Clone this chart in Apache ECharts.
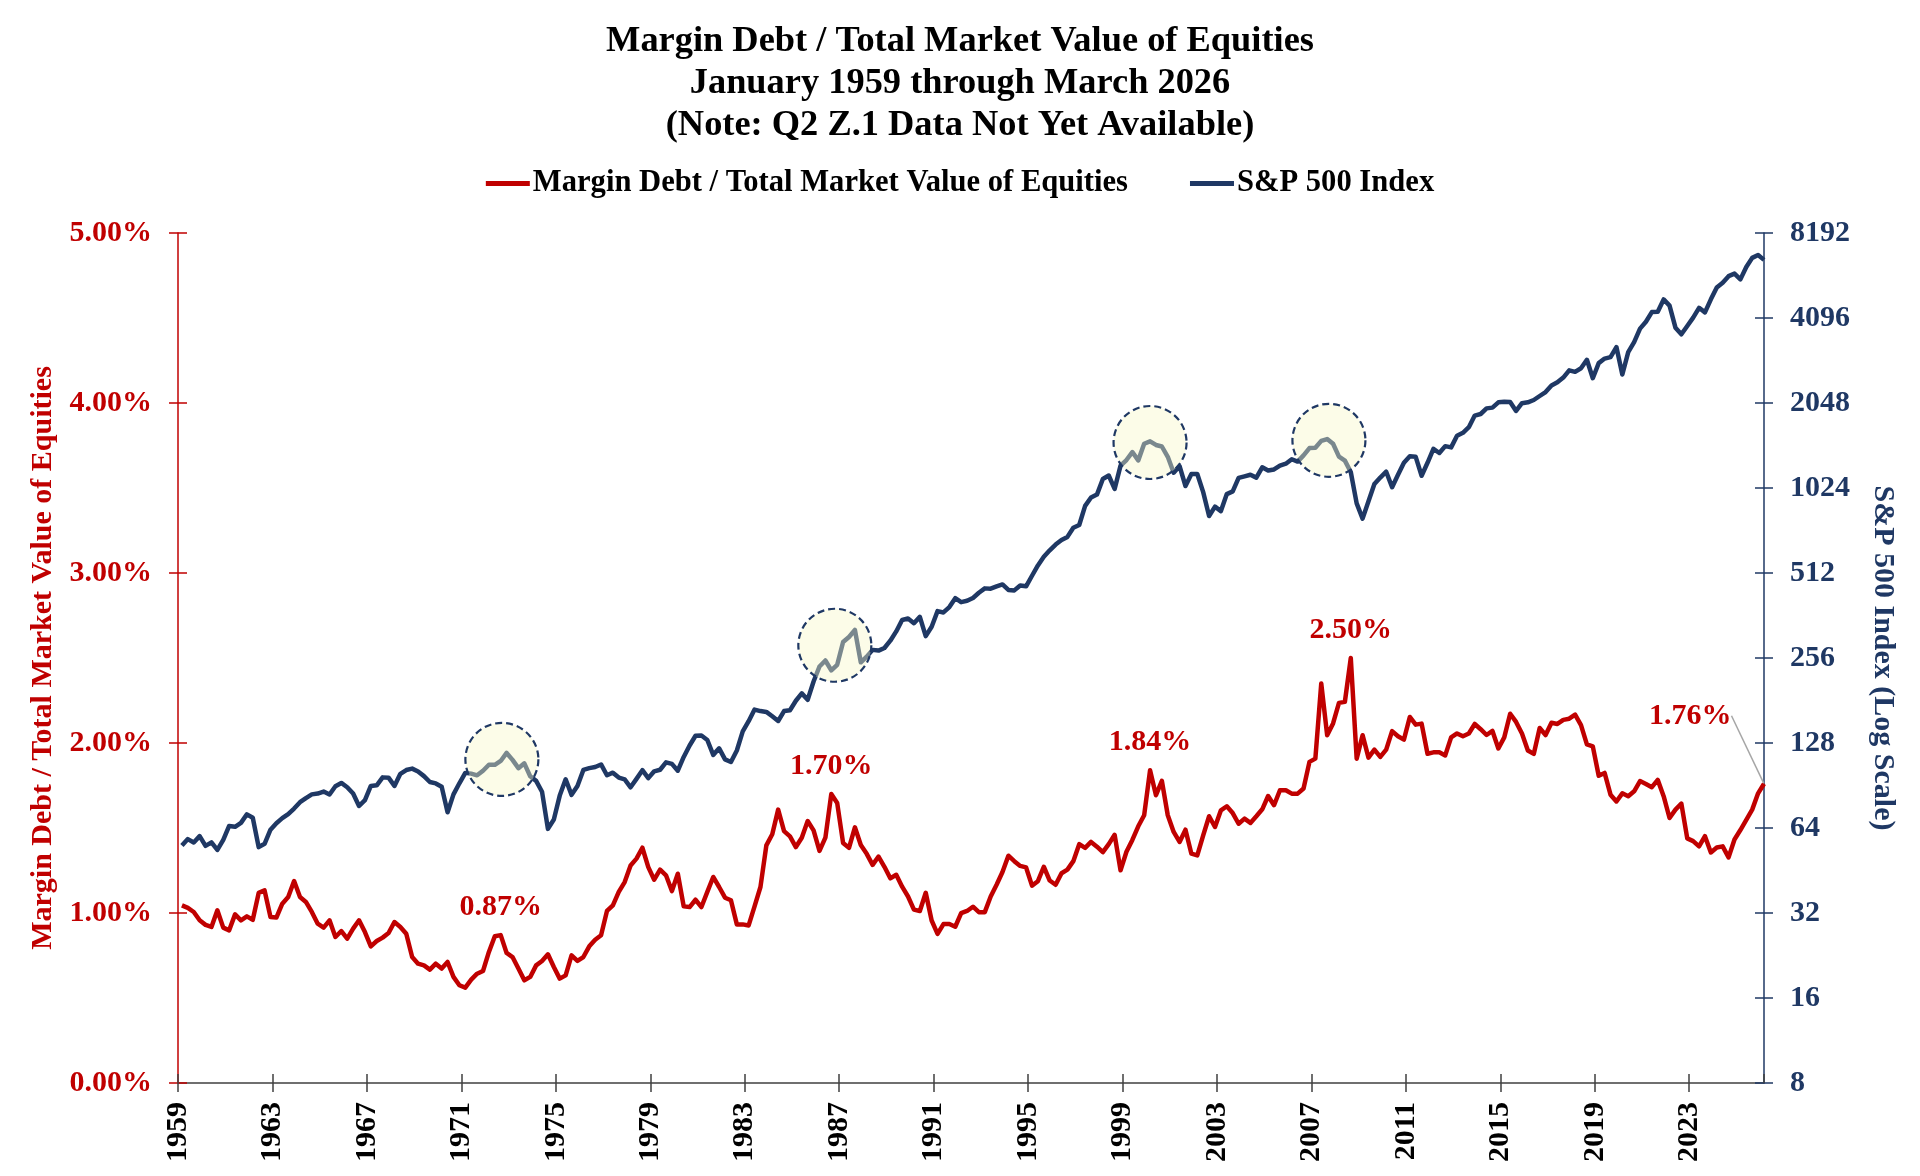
<!DOCTYPE html>
<html lang="en">
<head>
<meta charset="UTF-8">
<title>Margin Debt / Total Market Value of Equities</title>
<script src="https://cdn.jsdelivr.net/npm/echarts@6/dist/echarts.min.js"></script>
<style>
  html, body { margin: 0; padding: 0; background: #fff; }
  #main { width: 1920px; height: 1176px; }
</style>
</head>
<body>
<div id="main"></div>
<script>
// quarterly readings, Q1 1959 .. Q1 2026 (269 quarters)
const firstYear = 1959;

// margin debt / total market value of equities, in %
const marginPct = [
  1.045, 1.03, 1.006, 0.957, 0.93, 0.918, 1.016, 0.914, 0.898, 0.992,
  0.957, 0.98, 0.96, 1.118, 1.133, 0.976, 0.973, 1.055, 1.094, 1.188,
  1.094, 1.065, 1.006, 0.937, 0.914, 0.957, 0.859, 0.894, 0.849, 0.908,
  0.957, 0.888, 0.804, 0.835, 0.855, 0.882, 0.947, 0.918, 0.878, 0.741,
  0.702, 0.692, 0.667, 0.702, 0.673, 0.712, 0.624, 0.575, 0.561, 0.608,
  0.643, 0.659, 0.771, 0.863, 0.87, 0.765, 0.741, 0.673, 0.604, 0.624,
  0.692, 0.718, 0.757, 0.682, 0.614, 0.633, 0.751, 0.718, 0.741, 0.804,
  0.843, 0.869, 1.012, 1.045, 1.124, 1.182, 1.28, 1.32, 1.384, 1.27,
  1.196, 1.255, 1.222, 1.129, 1.231, 1.039, 1.035, 1.078, 1.035, 1.124,
  1.212, 1.153, 1.09, 1.075, 0.933, 0.933, 0.927, 1.039, 1.153, 1.398,
  1.463, 1.608, 1.482, 1.451, 1.388, 1.443, 1.541, 1.486, 1.365, 1.443,
  1.70, 1.647, 1.412, 1.383, 1.504, 1.40, 1.348, 1.283, 1.332, 1.272,
  1.204, 1.225, 1.155, 1.097, 1.02, 1.012, 1.119, 0.956, 0.877, 0.935,
  0.935, 0.919, 0.999, 1.012, 1.037, 1.005, 1.005, 1.097, 1.166, 1.241,
  1.337, 1.305, 1.277, 1.268, 1.161, 1.187, 1.272, 1.191, 1.166, 1.234,
  1.255, 1.305, 1.405, 1.383, 1.418, 1.39, 1.358, 1.405, 1.46, 1.251,
  1.36, 1.43, 1.51, 1.575, 1.84, 1.693, 1.777, 1.575, 1.477, 1.418,
  1.49, 1.349, 1.339, 1.457, 1.569, 1.506, 1.604, 1.628, 1.588, 1.525,
  1.555, 1.53, 1.569, 1.61, 1.688, 1.634, 1.722, 1.722, 1.702, 1.702,
  1.732, 1.889, 1.908, 2.35, 2.046, 2.115, 2.236, 2.242, 2.50, 1.908,
  2.046, 1.914, 1.961, 1.918, 1.961, 2.07, 2.04, 2.02, 2.153, 2.108,
  2.114, 1.937, 1.945, 1.945, 1.927, 2.033, 2.056, 2.04, 2.056, 2.112,
  2.081, 2.047, 2.071, 1.968, 2.033, 2.172, 2.124, 2.056, 1.956, 1.936,
  2.088, 2.047, 2.119, 2.112, 2.136, 2.143, 2.167, 2.105, 1.992, 1.98,
  1.807, 1.824, 1.696, 1.656, 1.704, 1.687, 1.716, 1.776, 1.759, 1.74,
  1.783, 1.687, 1.559, 1.608, 1.644, 1.439, 1.423, 1.392, 1.452, 1.356,
  1.385, 1.392, 1.327, 1.432, 1.488, 1.548, 1.608, 1.704, 1.76
];

// S&P 500 at quarter end
const spx = [
  55.44, 58.47, 56.88, 59.89,   55.34, 56.92, 53.52, 58.11,
  65.06, 64.64, 66.73, 71.55,   69.55, 54.75, 56.27, 63.10,
  66.57, 69.37, 71.70, 75.02,   78.98, 81.69, 84.18, 84.75,
  86.16, 84.12, 89.96, 92.43,   89.23, 84.74, 76.56, 80.33,
  90.20, 90.64, 96.71, 96.47,   90.20, 99.58, 102.67, 103.86,
  101.51, 97.71, 93.12, 92.06,  89.63, 72.72, 84.21, 92.15,
  100.31, 99.70, 98.34, 102.09, 107.20, 107.14, 110.55, 118.05,
  111.52, 104.26, 108.43, 97.55, 93.98, 86.00, 63.54, 68.56,
  83.36, 95.19, 83.87, 90.19,   102.77, 104.28, 105.24, 107.46,
  98.42, 100.48, 96.53, 95.10,  89.21, 95.53, 102.54, 96.11,
  101.59, 102.91, 109.32, 107.94, 102.09, 114.24, 125.46, 135.76,
  136.00, 131.21, 116.18, 122.55, 111.96, 109.61, 120.42, 140.64,
  152.96, 168.11, 166.07, 164.93, 159.18, 153.18, 166.10, 167.24,
  180.66, 191.85, 182.08, 211.28, 238.90, 250.84, 231.32, 242.17,
  291.70, 304.00, 321.83, 247.08, 258.89, 273.50, 271.91, 277.72,
  294.87, 317.98, 349.15, 353.40, 339.94, 358.02, 306.05, 330.22,
  375.22, 371.16, 387.86, 417.09, 403.69, 408.14, 417.80, 435.71,
  451.67, 450.53, 458.93, 466.45, 445.77, 444.27, 462.69, 459.27,
  500.71, 544.75, 584.41, 615.93, 645.50, 670.63, 687.31, 740.74,
  757.12, 885.14, 947.28, 970.43, 1101.75, 1133.84, 1017.01, 1229.23,
  1286.37, 1372.71, 1282.71, 1469.25, 1498.58, 1454.60, 1436.51, 1320.28,
  1160.33, 1224.42, 1040.94, 1148.08, 1147.39, 989.82, 815.28, 879.82,
  848.18, 974.50, 995.97, 1111.92, 1126.21, 1140.84, 1114.58, 1211.92,
  1180.59, 1191.33, 1228.81, 1248.29, 1294.83, 1270.20, 1335.85, 1418.30,
  1420.86, 1503.35, 1526.75, 1468.36, 1322.70, 1280.00, 1166.36, 903.25,
  797.87, 919.32, 1057.08, 1115.10, 1169.43, 1030.71, 1141.20, 1257.64,
  1325.83, 1320.64, 1131.42, 1257.60, 1408.47, 1362.16, 1440.67, 1426.19,
  1569.19, 1606.28, 1681.55, 1848.36, 1872.34, 1960.23, 1972.29, 2058.90,
  2067.89, 2063.11, 1920.03, 2043.94, 2059.74, 2098.86, 2168.27, 2238.83,
  2362.72, 2423.41, 2519.36, 2673.61, 2640.87, 2718.37, 2913.98, 2506.85,
  2834.40, 2941.76, 2976.74, 3230.78, 2584.59, 3100.29, 3363.00, 3756.07,
  3972.89, 4297.50, 4307.54, 4766.18, 4530.41, 3785.38, 3585.62, 3839.50,
  4109.31, 4450.38, 4288.05, 4769.83, 5254.35, 5460.48, 5762.48, 5881.63,
  5611.85, 6204.95, 6688.46, 6845.50, 6580
];

// quarters whose margin value gets a label (the last one gets a leader line)
const labelledQuarters = [54, 110, 164, 198];
// dashed highlight circles on the S&P line: [quarter index, index level]
const peakCircles = [[54.2, 112], [110.6, 284], [164, 1484], [194.3, 1511]];

const RED = '#C00000';
const NAVY = '#1F3864';
const FONT = '"Liberation Serif", "Times New Roman", serif';

// years after Jan 1959, point placed at the last month of each quarter
function quarterX(i) { return (i * 3 + 2) / 12; }

const lastIdx = marginPct.length - 1;
const xMax = quarterX(lastIdx);

const pctLabel = {
  show: true,
  position: 'top',
  distance: 12,
  color: RED,
  fontSize: 30,
  fontWeight: 'bold',
  fontFamily: FONT,
  formatter: p => p.value[1].toFixed(2) + '%'
};

const marginData = marginPct.map((v, i) => {
  if (labelledQuarters.indexOf(i) >= 0) {
    return { value: [quarterX(i), v], symbol: 'circle', symbolSize: 1, label: pctLabel };
  }
  if (i === lastIdx) {
    return {
      value: [quarterX(i), v], symbol: 'circle', symbolSize: 1,
      label: Object.assign({}, pctLabel, { position: 'left', distance: 32 }),
      labelLine: { show: true, lineStyle: { color: '#A6A6A6', width: 1.5 } }
    };
  }
  return [quarterX(i), v];
});
const spxData = spx.map((v, i) => [quarterX(i), v]);

var myChart = echarts.init(document.getElementById('main'));

const tickStyle = (color) => ({ color: color, width: 1.5 });

option = {
  animation: false,
  backgroundColor: '#fff',
  title: {
    text: 'Margin Debt / Total Market Value of Equities\nJanuary 1959 through March 2026\n(Note: Q2 Z.1 Data Not Yet Available)',
    left: 'center',
    top: 21,
    padding: 0,
    textStyle: { fontSize: 36.4, lineHeight: 42, fontWeight: 'bold', fontFamily: FONT, color: '#000' }
  },
  legend: {
    top: 168,
    left: 'center',
    padding: 0,
    icon: 'rect',
    itemWidth: 44,
    itemHeight: 5,
    itemGap: 62,
    textStyle: { fontSize: 30.6, fontWeight: 'bold', fontFamily: FONT, color: '#000', padding: [0, 0, 0, -2] },
    data: ['Margin Debt / Total Market Value of Equities', 'S&P 500 Index']
  },
  grid: { left: 178, right: 156, top: 233, bottom: 93, outerBoundsMode: 'none' },
  xAxis: [
    {
      type: 'value', min: 0, max: xMax, interval: 4, position: 'bottom',
      axisLine: { show: true, onZero: false, lineStyle: tickStyle('#404040') },
      axisTick: { show: true, length: 9, lineStyle: tickStyle('#404040') },
      axisLabel: {
        rotate: 90, margin: 19, fontSize: 30, fontWeight: 'bold', fontFamily: FONT, color: '#000',
        showMaxLabel: false, formatter: v => String(firstYear + Math.round(v))
      },
      splitLine: { show: false }
    },
    { // inner half of the crossing ticks
      type: 'value', min: 0, max: xMax, interval: 4, position: 'bottom',
      axisLine: { show: false, onZero: false },
      axisTick: { show: true, inside: true, length: 9, lineStyle: tickStyle('#404040') },
      axisLabel: { show: false },
      splitLine: { show: false }
    }
  ],
  yAxis: [
    {
      type: 'value', position: 'left', min: 0, max: 5, interval: 1,
      name: 'Margin Debt / Total Market Value of Equities',
      nameLocation: 'middle', nameRotate: 90, nameGap: 118,
      nameTextStyle: { color: RED, fontSize: 30, fontWeight: 'bold', fontFamily: FONT },
      axisLine: { show: true, onZero: false, lineStyle: tickStyle(RED) },
      axisTick: { show: true, length: 9, lineStyle: tickStyle(RED) },
      axisLabel: { margin: 26, color: RED, fontSize: 30, fontWeight: 'bold', fontFamily: FONT, formatter: v => v.toFixed(2) + '%' },
      splitLine: { show: false }
    },
    {
      type: 'log', logBase: 2, position: 'right', min: 8, max: 8192, interval: 1,
      name: 'S&P 500 Index (Log Scale)',
      nameLocation: 'middle', nameRotate: -90, nameGap: 104,
      nameTextStyle: { color: NAVY, fontSize: 30, fontWeight: 'bold', fontFamily: FONT },
      axisLine: { show: true, onZero: false, lineStyle: tickStyle(NAVY) },
      axisTick: { show: true, length: 9, lineStyle: tickStyle(NAVY) },
      axisLabel: { margin: 26, color: NAVY, fontSize: 30, fontWeight: 'bold', fontFamily: FONT, formatter: v => String(Math.round(v)) },
      splitLine: { show: false }
    },
    {
      type: 'value', position: 'left', min: 0, max: 5, interval: 1,
      axisLine: { show: false, onZero: false },
      axisTick: { show: true, inside: true, length: 9, lineStyle: tickStyle(RED) },
      axisLabel: { show: false },
      splitLine: { show: false }
    },
    {
      type: 'log', logBase: 2, position: 'right', min: 8, max: 8192, interval: 1,
      axisLine: { show: false, onZero: false },
      axisTick: { show: true, inside: true, length: 9, lineStyle: tickStyle(NAVY) },
      axisLabel: { show: false },
      splitLine: { show: false }
    }
  ],
  series: [
    {
      name: 'Margin Debt / Total Market Value of Equities',
      type: 'line',
      xAxisIndex: 0, yAxisIndex: 0,
      data: marginData,
      symbol: 'none',
      lineStyle: { color: RED, width: 4.5, join: 'round' },
      itemStyle: { color: RED },
      emphasis: { disabled: true },
      labelLayout: function (p) {
        if (p.dataIndex === lastIdx) return { dy: -68 };
      },
      z: 3
    },
    {
      name: 'S&P 500 Index',
      type: 'line',
      xAxisIndex: 0, yAxisIndex: 1,
      data: spxData,
      symbol: 'none',
      lineStyle: { color: NAVY, width: 4.5, join: 'round' },
      itemStyle: { color: NAVY },
      emphasis: { disabled: true },
      markPoint: {
        silent: true,
        symbol: 'circle',
        symbolSize: 73,
        label: { show: false },
        itemStyle: {
          color: 'rgba(248, 248, 200, 0.42)',
          borderColor: NAVY,
          borderWidth: 2.2,
          borderType: [7, 4]
        },
        data: peakCircles.map(c => ({ coord: [quarterX(c[0]), c[1]] }))
      },
      z: 2
    }
  ]
};

myChart.setOption(option);
</script>
</body>
</html>
